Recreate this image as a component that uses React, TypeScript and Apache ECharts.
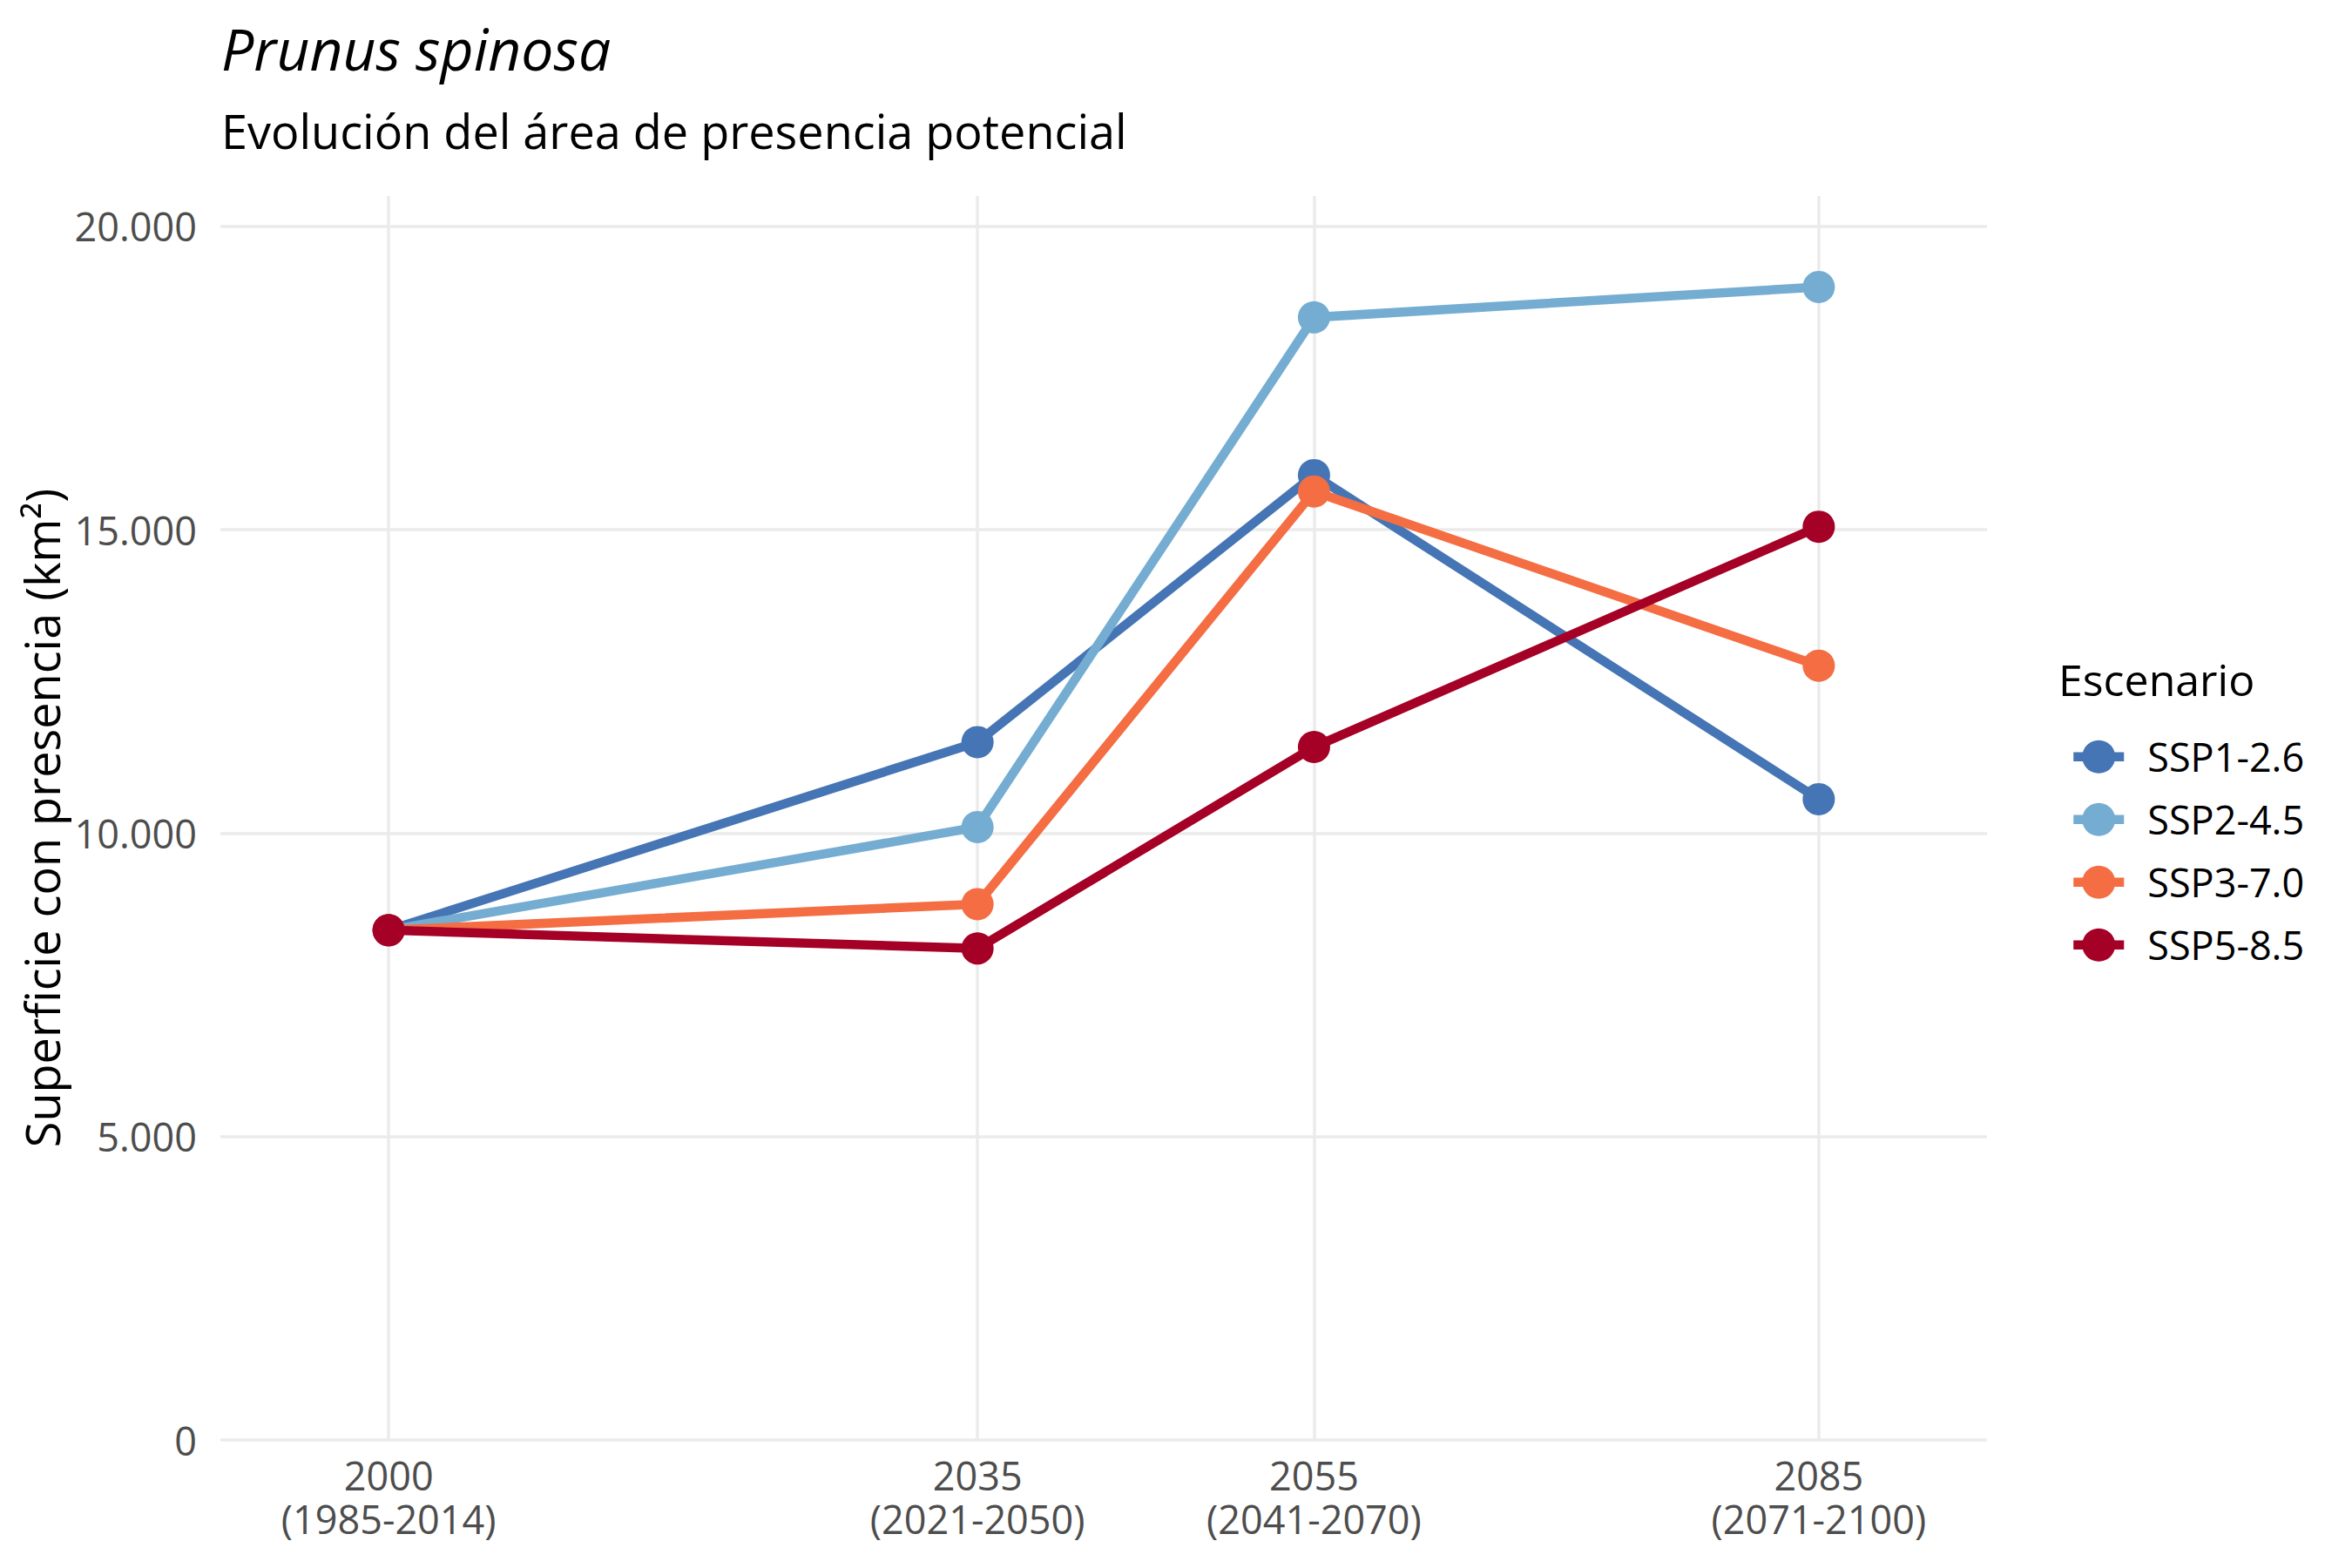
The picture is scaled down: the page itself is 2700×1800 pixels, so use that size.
import React, { useEffect, useRef } from "react";
import * as echarts from "echarts";

const years = [2000, 2035, 2055, 2085];
const periods = ["(1985-2014)", "(2021-2050)", "(2041-2070)", "(2071-2100)"];
const yTicks = [0, 5000, 10000, 15000, 20000];

const scenarios = ["SSP1-2.6", "SSP2-4.5", "SSP3-7.0", "SSP5-8.5"];
const ssp126 = [8400, 11500, 15900, 10560];
const ssp245 = [8400, 10100, 18500, 19000];
const ssp370 = [8400, 8830, 15630, 12760];
const ssp585 = [8400, 8100, 11420, 15050];
const colors = ["#4575b4", "#74add1", "#f46d43", "#a50026"];

const FONT = "Open Sans";

const fmtThousands = (v: number) =>
  String(Math.round(v)).replace(/\B(?=(\d{3})+(?!\d))/g, ".");

const App: React.FC = () => {
  const chartRef = useRef<HTMLDivElement>(null);

  useEffect(() => {
    if (!chartRef.current) return;
    const chart = echarts.init(chartRef.current, undefined, { renderer: "svg" });

    const values = [ssp126, ssp245, ssp370, ssp585];

    const option: echarts.EChartsOption = {
      animation: false,
      backgroundColor: "#ffffff",
      textStyle: { fontFamily: FONT },
      grid: { left: 253, right: 419, top: 225, bottom: 147 },
      xAxis: {
        type: "value",
        min: 1990,
        max: 2095,
        axisLine: { show: false },
        axisTick: { show: false, customValues: years },
        axisLabel: {
          customValues: years,
          margin: 15,
          color: "#4d4d4d",
          fontSize: 45,
          lineHeight: 50,
          fontFamily: FONT,
          formatter: (v: number) => {
            const i = years.indexOf(v);
            return i >= 0 ? `${v}\n${periods[i]}` : "";
          },
        },
        splitLine: { show: true, lineStyle: { color: "#ebebeb", width: 3.5 } },
      },
      yAxis: {
        type: "value",
        min: 0,
        max: 20500,
        axisLine: { show: false },
        axisTick: { show: false, customValues: yTicks },
        axisLabel: {
          customValues: yTicks,
          margin: 27,
          color: "#4d4d4d",
          fontSize: 45,
          fontFamily: FONT,
          formatter: (v: number) => fmtThousands(v),
        },
        splitLine: { show: true, lineStyle: { color: "#ebebeb", width: 3.5 } },
      },
      legend: {
        orient: "vertical",
        left: 2370,
        top: 840,
        itemWidth: 58,
        itemHeight: 47.5,
        itemGap: 24.5,
        data: scenarios,
        lineStyle: { width: 10.5 },
        textStyle: {
          fontFamily: FONT,
          fontSize: 45,
          lineHeight: 47.5,
          color: "#000000",
          padding: [0, 0, 0, 22],
        },
      },
      graphic: [
        {
          type: "text",
          left: 254,
          top: 22,
          style: {
            text: "Prunus spinosa",
            fontFamily: FONT,
            fontStyle: "italic",
            fontSize: 66,
            fill: "#000000",
          },
        },
        {
          type: "text",
          left: 254,
          top: 123,
          style: {
            text: "Evolución del área de presencia potencial",
            fontFamily: FONT,
            fontSize: 54,
            fill: "#000000",
          },
        },
        {
          type: "text",
          left: 2363,
          top: 755,
          style: {
            text: "Escenario",
            fontFamily: FONT,
            fontSize: 50,
            fill: "#000000",
          },
        },
        {
          type: "text",
          x: 48,
          y: 939,
          rotation: Math.PI / 2,
          style: {
            text: "Superficie con presencia (km²)",
            fontFamily: FONT,
            fontSize: 54,
            fill: "#000000",
            align: "center",
            verticalAlign: "middle",
          },
        },
      ],
      series: scenarios.map((name, i) => ({
        name,
        type: "line",
        data: years.map((y, j) => [y, values[i][j]]),
        symbol: "circle",
        symbolSize: 37,
        color: colors[i],
        lineStyle: { color: colors[i], width: 10.5 },
        itemStyle: { color: colors[i] },
        z: 2 + i,
      })),
    };

    chart.setOption(option);

    return () => {
      chart.dispose();
    };
  }, []);

  return (
    <div
      ref={chartRef}
      style={{ position: "fixed", left: 0, top: 0, width: "100vw", height: "100vh" }}
    />
  );
};

export default App;
